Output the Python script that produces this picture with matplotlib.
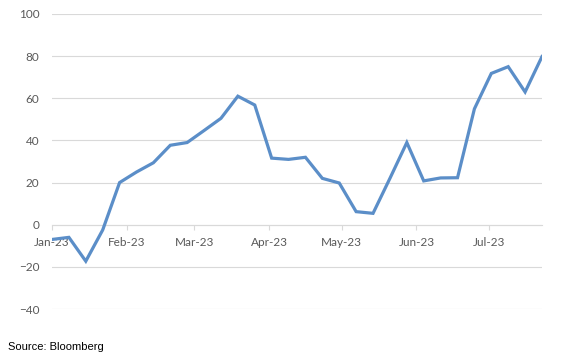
import matplotlib.pyplot as plt
import matplotlib.dates as mdates
import pandas as pd

# weekly readings, Jan to Jul 2023
start_date = "2023-01-01"
values = [-7, -6, -17.3, -2.5, 20, 25, 29.4, 37.7, 39, 44.7, 50.5, 61, 56.8, 31.6, 31,
          32, 22, 19.8, 6.2, 5.4, 22, 39, 20.8, 22.2, 22.3, 55, 71.8, 75, 63, 79.8]
dates = pd.date_range(start_date, periods=len(values), freq="7D")
y_ticks = [-40, -20, 0, 20, 40, 60, 80, 100]
source = "Source: Bloomberg"

fig = plt.figure(figsize=(5.69, 3.62), dpi=100)
ax = fig.add_axes([52 / 569, 1 - 309 / 362, 490 / 569, 295 / 362])

ax.plot(dates, values, color="#5b8ec8", linewidth=2.3, zorder=3, solid_joinstyle="miter")

ax.set_xlim(dates[0], dates[-1])
ax.set_ylim(-40, 100)
ax.set_yticks(y_ticks)
ax.grid(axis="y", color="#d9d9d9", linewidth=0.8)
ax.set_axisbelow(True)

for s in ["top", "right", "left"]:
  ax.spines[s].set_visible(False)
ax.spines["bottom"].set_position(("data", 0))
ax.spines["bottom"].set_color("#d9d9d9")
ax.spines["bottom"].set_linewidth(0.8)

ax.xaxis.set_major_locator(mdates.MonthLocator())
ax.xaxis.set_major_formatter(mdates.DateFormatter("%b-%y"))
ax.tick_params(axis="x", length=3.5, width=0.8, color="#d9d9d9", pad=5,
               labelsize=8.5, labelcolor="#595959")
ax.tick_params(axis="y", length=0, pad=9, labelsize=8.5, labelcolor="#595959")
for lab in ax.get_xticklabels() + ax.get_yticklabels():
  lab.set_family("Lato")

fig.text(8 / 569, 1 - 347 / 362, source, fontsize=8, family="Liberation Sans",
         va="center", ha="left", color="black")

fig.savefig("out.png", dpi=100)
